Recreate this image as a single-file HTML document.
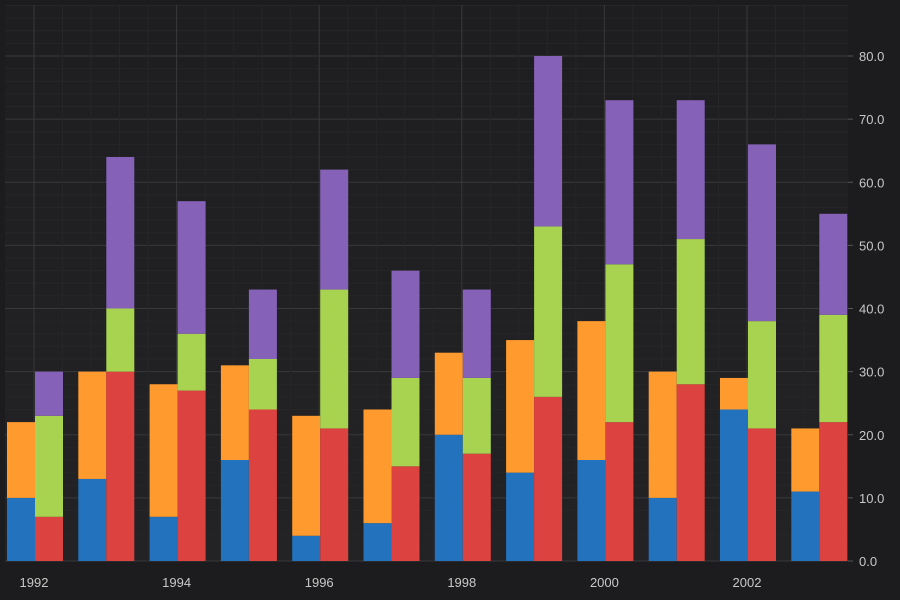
<!DOCTYPE html>
<html><head><meta charset="utf-8"><style>
html,body{margin:0;padding:0;background:#1c1c1e;}
svg{display:block;font-family:"Liberation Sans",sans-serif;}
</style></head><body>
<svg id="chart" width="900" height="600" xmlns="http://www.w3.org/2000/svg">
<defs><linearGradient id="bg" x1="0" y1="0" x2="0" y2="1"><stop offset="0" stop-color="#1e1e20"/><stop offset="1" stop-color="#232325"/></linearGradient></defs>
<rect width="900" height="600" fill="#1c1c1e"/>
<rect x="5" y="5" width="843" height="556" fill="url(#bg)"/>
<g id="grid"></g><g id="bars"></g><g id="axes"></g>
</svg>
<script>
const years=[1992,1993,1994,1995,1996,1997,1998,1999,2000,2001,2002,2003];
const blue=[10,13,7,16,4,6,20,14,16,10,24,11];
const orange=[12,17,21,15,19,18,13,21,22,20,5,10];
const red=[7,30,27,24,21,15,17,26,22,28,21,22];
const green=[16,10,9,8,22,14,12,27,25,23,17,17];
const purple=[7,24,21,11,19,17,14,27,26,22,28,16];
const yTicks=[0,10,20,30,40,50,60,70,80];
const xTicks=[1992,1994,1996,1998,2000,2002];
const NS="http://www.w3.org/2000/svg";
const L=5,R=848,T=5,B=561;
const x=v=>34+(v-1992)*71.3;
const y=v=>B-v*(505/80);
function mk(t,a,p){const e=document.createElementNS(NS,t);for(const k in a)e.setAttribute(k,a[k]);p.appendChild(e);return e;}
const g=document.getElementById('grid'),b=document.getElementById('bars'),ax=document.getElementById('axes');
for(let v=0;v<=88;v+=2){const e=mk('line',{x1:L,x2:R,y1:y(v),y2:y(v),stroke:v%10==0?'#38383b':'#262628','stroke-width':1},g);
}
for(let yr=1991.6;yr<=2003.4;yr+=0.4){}
for(let yr=1992;yr<=2003;yr+=0.4){const xv=x(yr);if(xv>R)break;const maj=Math.abs((yr-1992)/2-Math.round((yr-1992)/2))<0.01;
const e=mk('line',{x1:xv,x2:xv,y1:T,y2:B,stroke:maj?'#38383b':'#262628','stroke-width':1},g);
}
const bw=28;
years.forEach((yr,i)=>{
 const cx=x(yr)+1;
 const left=[[blue[i],'#2372bd','blue'],[orange[i],'#ff9a2e','orange']];
 const right=[[red[i],'#dc4340','red'],[green[i],'#a8d350','green'],[purple[i],'#8561b8','purple']];
 [[left,cx-bw],[right,cx]].forEach(([stack,x0])=>{let acc=0;stack.forEach(([v,c,n])=>{
  const r=mk('rect',{x:x0,y:y(acc+v),width:bw,height:y(acc)-y(acc+v),fill:c},b);
  acc+=v;});});
});
yTicks.forEach(v=>{const t=mk('text',{x:859,y:y(v)+5,fill:'#c8c8c8','font-size':13},ax);t.textContent=v.toFixed(1);

const l=mk('line',{x1:R,x2:R+5,y1:y(v),y2:y(v),stroke:'#555'},ax);});
xTicks.forEach(v=>{const t=mk('text',{x:x(v),y:587,fill:'#c8c8c8','font-size':13,'text-anchor':'middle'},ax);t.textContent=v;
});
</script>
</body></html>
